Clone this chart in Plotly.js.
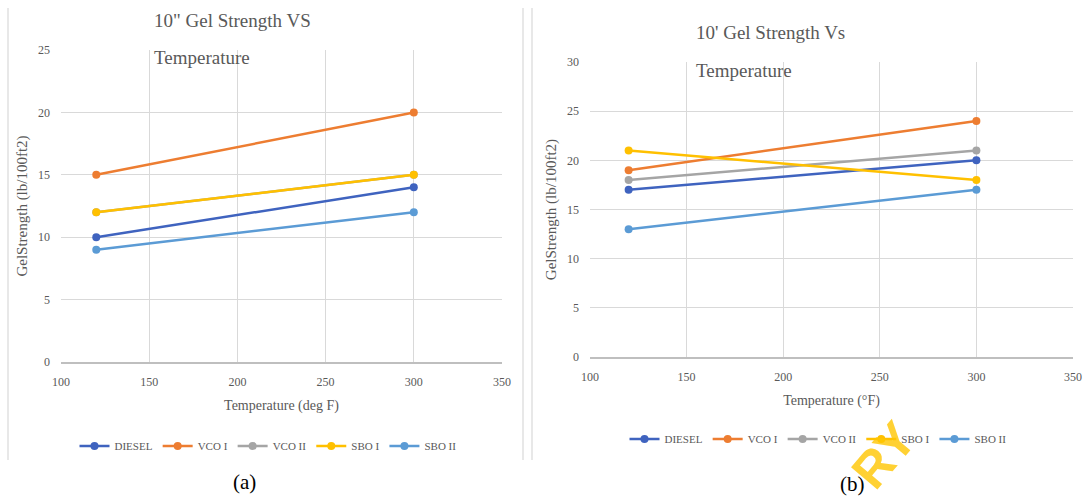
<!DOCTYPE html>
<html>
<head>
<meta charset="utf-8">
<script src="https://cdn.plot.ly/plotly-3.0.1.min.js"></script>
<style>
  html, body { margin: 0; padding: 0; background: #ffffff; }
  #chart { width: 1091px; height: 499px; }
</style>
</head>
<body>
<div id="chart"></div>
<script>
// ---- Data ----
const temperatures = [120, 300];
const seriesNames = ['DIESEL', 'VCO I', 'VCO II', 'SBO I', 'SBO II'];
const seriesColors = ['#3F63BF', '#ED7D31', '#A5A5A5', '#FFC000', '#5B9BD5'];

// (a) 10" gel strength (lb/100ft2)
const gel10sDiesel = [10, 14];
const gel10sVco1   = [15, 20];
const gel10sVco2   = [12, 15];
const gel10sSbo1   = [12, 15];
const gel10sSbo2   = [9, 12];

// (b) 10' gel strength (lb/100ft2)
const gel10mDiesel = [17, 20];
const gel10mVco1   = [19, 24];
const gel10mVco2   = [18, 21];
const gel10mSbo1   = [21, 18];
const gel10mSbo2   = [13, 17];

const xTickVals = [100, 150, 200, 250, 300, 350];

const seriesA = [gel10sDiesel, gel10sVco1, gel10sVco2, gel10sSbo1, gel10sSbo2];
const seriesB = [gel10mDiesel, gel10mVco1, gel10mVco2, gel10mSbo1, gel10mSbo2];

const W = 1091, H = 499;
const px = v => v / W;
const py = v => 1 - v / H;

const textGray = '#595959';
const serif = 'Liberation Serif, Times New Roman, serif';

const traces = [];
seriesA.forEach((vals, i) => {
  traces.push({
    x: temperatures, y: vals, name: seriesNames[i],
    type: 'scatter', mode: 'lines+markers',
    line: { color: seriesColors[i], width: 2.5 },
    marker: { color: seriesColors[i], size: 8 },
    xaxis: 'x', yaxis: 'y', legend: 'legend'
  });
});
seriesB.forEach((vals, i) => {
  traces.push({
    x: temperatures, y: vals, name: seriesNames[i],
    type: 'scatter', mode: 'lines+markers',
    line: { color: seriesColors[i], width: 2.5 },
    marker: { color: seriesColors[i], size: 8 },
    xaxis: 'x2', yaxis: 'y2', legend: 'legend2'
  });
});

const axisCommon = {
  showgrid: true, gridcolor: '#d9d9d9', gridwidth: 1,
  zeroline: false, ticks: '', tickfont: { family: serif, size: 12, color: textGray },
  fixedrange: true
};

const xAxisCommon = Object.assign({}, axisCommon, {
  range: [100, 350], tickvals: xTickVals, showline: true, linecolor: '#bfbfbf', linewidth: 1.5,
  ticklabelstandoff: 8, mirror: false
});

const yAxisCommon = Object.assign({}, axisCommon, {
  dtick: 5, showline: false, ticklabelstandoff: 10
});

const yTitleFont = { family: serif, size: 15, color: textGray };
const xTitleFont = { family: serif, size: 14, color: textGray };
const legendFont = { family: serif, size: 11, color: textGray };

const layout = {
  width: W, height: H,
  margin: { l: 0, r: 0, t: 0, b: 0 },
  paper_bgcolor: '#ffffff', plot_bgcolor: '#ffffff',
  font: { family: serif, color: textGray },
  xaxis: Object.assign({}, xAxisCommon, {
    domain: [px(61), px(502)], anchor: 'y',
    title: { text: 'Temperature (deg F)', font: xTitleFont, standoff: 12 }
  }),
  yaxis: Object.assign({}, yAxisCommon, {
    domain: [py(362), py(50)], anchor: 'x', range: [0, 25],
    title: { text: 'GelStrength (lb/100ft2)', font: yTitleFont, standoff: 6 }
  }),
  xaxis2: Object.assign({}, xAxisCommon, {
    domain: [px(590), px(1073)], anchor: 'y2',
    title: { text: 'Temperature (°F)', font: xTitleFont, standoff: 12 }
  }),
  yaxis2: Object.assign({}, yAxisCommon, {
    domain: [py(357), py(62)], anchor: 'x2', range: [0, 30],
    title: { text: 'GelStrength (lb/100ft2)', font: yTitleFont, standoff: 6 }
  }),
  legend: {
    orientation: 'h', x: px(268), xanchor: 'center', y: py(446), yanchor: 'middle',
    font: legendFont, itemwidth: 30, bgcolor: 'rgba(0,0,0,0)'
  },
  legend2: {
    orientation: 'h', x: px(818), xanchor: 'center', y: py(439), yanchor: 'middle',
    font: legendFont, itemwidth: 30, bgcolor: 'rgba(0,0,0,0)'
  },
  shapes: [
    { type: 'line', xref: 'paper', yref: 'paper', x0: px(8), x1: px(8), y0: py(8), y1: py(460), line: { color: '#e0e0e0', width: 1.5 } },
    { type: 'line', xref: 'paper', yref: 'paper', x0: px(523), x1: px(523), y0: py(8), y1: py(460), line: { color: '#e0e0e0', width: 1.5 } },
    { type: 'line', xref: 'paper', yref: 'paper', x0: px(532), x1: px(532), y0: py(8), y1: py(460), line: { color: '#e0e0e0', width: 1.5 } }
  ],
  annotations: [
    { text: '<b>RY</b>', xref: 'paper', yref: 'paper', x: px(884), y: py(455), xanchor: 'center', yanchor: 'middle', showarrow: false, textangle: -50, font: { family: 'Liberation Sans', size: 50, color: 'rgba(255,198,0,0.8)' } },
    { text: '10" Gel Strength VS', xref: 'paper', yref: 'paper', x: px(152), y: py(20), xanchor: 'left', yanchor: 'middle', showarrow: false, font: { family: serif, size: 19, color: textGray } },
    { text: 'Temperature', xref: 'paper', yref: 'paper', x: px(152), y: py(57), xanchor: 'left', yanchor: 'middle', showarrow: false, font: { family: serif, size: 19, color: textGray } },
    { text: "10' Gel Strength Vs", xref: 'paper', yref: 'paper', x: px(694), y: py(33), xanchor: 'left', yanchor: 'middle', showarrow: false, font: { family: serif, size: 19, color: textGray } },
    { text: 'Temperature', xref: 'paper', yref: 'paper', x: px(694), y: py(70), xanchor: 'left', yanchor: 'middle', showarrow: false, font: { family: serif, size: 19, color: textGray } },
    { text: '(a)', xref: 'paper', yref: 'paper', x: px(244), y: py(482), xanchor: 'center', yanchor: 'middle', showarrow: false, font: { family: serif, size: 21, color: '#000000' } },
    { text: '(b)', xref: 'paper', yref: 'paper', x: px(852), y: py(484), xanchor: 'center', yanchor: 'middle', showarrow: false, font: { family: serif, size: 21, color: '#000000' } }
  ]
};

Plotly.newPlot('chart', traces, layout, { displayModeBar: false, staticPlot: true });
</script>
</body>
</html>
